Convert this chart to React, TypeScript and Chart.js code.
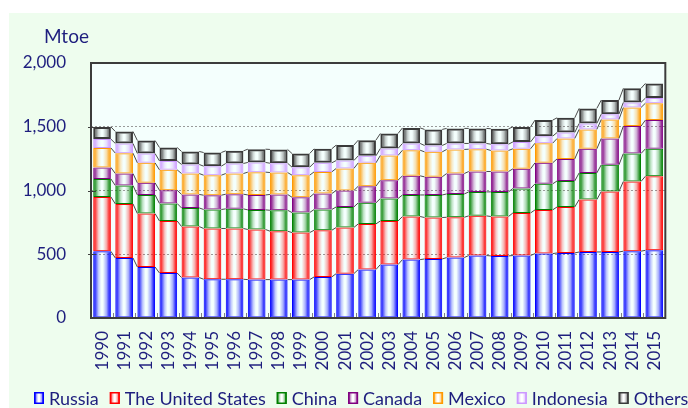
import React, { useEffect, useRef } from 'react';
import { Chart, registerables } from 'chart.js';

Chart.register(...registerables);

const years = ['1990', '1991', '1992', '1993', '1994', '1995', '1996', '1997', '1998', '1999', '2000', '2001', '2002', '2003', '2004', '2005', '2006', '2007', '2008', '2009', '2010', '2011', '2012', '2013', '2014', '2015'];

const russia = [523, 471, 400, 353, 317, 304, 304, 301, 301, 301, 322, 348, 380, 419, 458, 463, 474, 490, 487, 490, 505, 510, 518, 518, 524, 531];
const unitedStates = [427, 424, 419, 408, 400, 398, 398, 393, 380, 369, 366, 362, 358, 342, 338, 325, 316, 311, 309, 334, 343, 361, 411, 474, 547, 581];
const china = [141, 144, 146, 137, 146, 149, 154, 154, 164, 157, 163, 161, 165, 176, 169, 177, 183, 188, 193, 192, 204, 204, 209, 209, 219, 215];
const canada = [90, 94, 95, 104, 106, 112, 115, 117, 124, 120, 125, 129, 131, 144, 150, 142, 160, 160, 160, 154, 165, 173, 189, 207, 215, 225];
const mexico = [153, 160, 157, 160, 164, 157, 162, 179, 172, 173, 170, 173, 183, 194, 201, 196, 189, 175, 165, 157, 154, 160, 152, 149, 146, 133];
const indonesia = [69, 76, 73, 70, 71, 71, 79, 76, 73, 63, 71, 62, 55, 55, 53, 50, 47, 45, 49, 54, 55, 47, 47, 42, 40, 40];
const others = [96, 94, 102, 105, 102, 107, 99, 104, 108, 107, 110, 121, 123, 117, 122, 126, 118, 118, 121, 118, 126, 115, 118, 110, 110, 115];

const seriesNames = ['Russia', 'The United States', 'China', 'Canada', 'Mexico', 'Indonesia', 'Others'];
const seriesValues = [russia, unitedStates, china, canada, mexico, indonesia, others];
const seriesColors = ['#0000FF', '#FF0000', '#008000', '#800080', '#FF9900', '#CC99FF', '#3A3A3A'];

const yTicks = [0, 500, 1000, 1500, 2000];

const TEXT = '#1E1E7E';
const FONT = 'Lato';
const BAR_PCT = 0.8;

function rgba(hex: string, a: number) {
  const n = parseInt(hex.slice(1), 16);
  return `rgba(${(n >> 16) & 255},${(n >> 8) & 255},${n & 255},${a})`;
}

function fillGrad(ctx: CanvasRenderingContext2D, x0: number, x1: number, color: string) {
  const g = ctx.createLinearGradient(x0, 0, x1, 0);
  g.addColorStop(0, rgba(color, 1));
  g.addColorStop(0.1, rgba(color, 0.8));
  g.addColorStop(0.3, rgba(color, 0.22));
  g.addColorStop(0.45, rgba(color, 0.0));
  g.addColorStop(0.55, rgba(color, 0.0));
  g.addColorStop(0.75, rgba(color, 0.32));
  g.addColorStop(0.92, rgba(color, 0.85));
  g.addColorStop(1, rgba(color, 1));
  return g;
}

function barBackground(color: string) {
  return (c: any) => {
    const chart = c.chart;
    const xs = chart.scales && chart.scales.x;
    if (!xs || c.type !== 'data' || !chart.chartArea) return rgba(color, 0.4);
    const cx = xs.getPixelForValue(c.dataIndex);
    const half = (xs.width / years.length) * BAR_PCT / 2;
    return fillGrad(chart.ctx, cx - half, cx + half, color);
  };
}

const decoPlugin = {
  id: 'deco',
  beforeDraw(chart: any) {
    const { ctx, chartArea: a } = chart;
    ctx.save();
    ctx.fillStyle = '#FFFFFF';
    ctx.fillRect(0, 0, chart.width, chart.height);
    ctx.fillStyle = '#EEFDEE';
    ctx.fillRect(9, 13, chart.width - 9, chart.height - 13);
    ctx.fillStyle = '#F4FFFD';
    ctx.fillRect(a.left, a.top, a.right - a.left, a.bottom - a.top);
    ctx.restore();
  },
  afterDatasetsDraw(chart: any) {
    const ctx = chart.ctx;
    ctx.save();
    ctx.strokeStyle = '#4A4A4A';
    ctx.lineWidth = 1;
    chart.data.datasets.forEach((_: any, d: number) => {
      const meta = chart.getDatasetMeta(d);
      for (let i = 0; i < meta.data.length - 1; i++) {
        const a = meta.data[i];
        const b = meta.data[i + 1];
        ctx.beginPath();
        ctx.moveTo(a.x + a.width / 2, a.y);
        ctx.lineTo(b.x - b.width / 2, b.y);
        ctx.stroke();
      }
    });
    ctx.restore();
  },
  afterDraw(chart: any) {
    const { ctx, chartArea: a } = chart;
    const xs = chart.scales.x;
    const ys = chart.scales.y;
    ctx.save();
    // inside tick marks
    ctx.strokeStyle = '#808080';
    ctx.lineWidth = 1;
    const cat = xs.width / years.length;
    for (let i = 1; i < years.length; i++) {
      const x = Math.round(xs.left + cat * i) + 0.5;
      ctx.beginPath();
      ctx.moveTo(x, a.bottom);
      ctx.lineTo(x, a.bottom - 5);
      ctx.stroke();
    }
    ctx.strokeStyle = '#404040';
    yTicks.slice(1, -1).forEach((v) => {
      const y = Math.round(ys.getPixelForValue(v)) + 0.5;
      ctx.beginPath();
      ctx.moveTo(a.left - 3, y);
      ctx.lineTo(a.left + 5, y);
      ctx.stroke();
    });
    // frame
    ctx.strokeStyle = '#3C3C3C';
    ctx.lineWidth = 2;
    ctx.strokeRect(a.left, a.top, a.right - a.left, a.bottom - a.top);
    // unit
    ctx.fillStyle = TEXT;
    ctx.font = `19px ${FONT}`;
    ctx.textBaseline = 'alphabetic';
    ctx.textAlign = 'left';
    ctx.fillText('Mtoe', 44, 43);
    // legend
    ctx.font = `18px ${FONT}`;
    ctx.textBaseline = 'middle';
    let x = 34;
    const y = 398;
    seriesNames.forEach((name, i) => {
      const color = seriesColors[i];
      ctx.fillStyle = '#FFFFFF';
      ctx.fillRect(x, y - 6, 10, 12);
      ctx.fillStyle = fillGrad(ctx, x, x + 10, color);
      ctx.fillRect(x, y - 6, 10, 12);
      ctx.strokeStyle = color;
      ctx.lineWidth = 1.5;
      ctx.strokeRect(x + 0.75, y - 5.25, 8.5, 10.5);
      ctx.fillStyle = TEXT;
      ctx.fillText(name, x + 15, y + 1);
      x += 15 + ctx.measureText(name).width + 11;
    });
    ctx.restore();
  },
};

export default function App() {
  const ref = useRef<HTMLCanvasElement | null>(null);
  useEffect(() => {
    document.body.style.margin = '0';
    const canvas = ref.current;
    if (!canvas) return;
    const chart = new Chart(canvas, {
      type: 'bar',
      data: {
        labels: years,
        datasets: seriesValues.map((vals, i) => ({
          label: seriesNames[i],
          data: vals,
          backgroundColor: barBackground(seriesColors[i]),
          borderColor: seriesColors[i],
          borderWidth: i === 6 ? 2 : 1,
          borderSkipped: false,
          barPercentage: BAR_PCT,
          categoryPercentage: 1,
        })),
      },
      options: {
        responsive: false,
        animation: false,
        devicePixelRatio: 1,
        layout: { padding: { left: 0, top: 63, right: 17, bottom: 0 } },
        plugins: {
          legend: { display: false },
          tooltip: { enabled: false },
        },
        scales: {
          x: {
            stacked: true,
            grid: { display: false, drawTicks: false },
            border: { display: false },
            ticks: {
              autoSkip: false,
              minRotation: 90,
              maxRotation: 90,
              padding: 13,
              color: TEXT,
              font: { family: FONT, size: 17 },
            },
            afterFit: (s: any) => { s.height = 90; },
          },
          y: {
            stacked: true,
            min: 0,
            max: 2000,
            afterBuildTicks: (s: any) => { s.ticks = yTicks.map((v) => ({ value: v })); },
            grid: {
              drawTicks: false,
              color: (c: any) => (c.tick && (c.tick.value === 0 || c.tick.value === 2000) ? 'rgba(0,0,0,0)' : '#9A9A9A'),
              lineWidth: 1,
            },
            border: { display: false, dash: [2, 2] },
            ticks: {
              padding: 25,
              color: TEXT,
              font: { family: FONT, size: 17 },
              callback: (v: any) => Number(v).toLocaleString('en-US'),
            },
            afterFit: (s: any) => { s.width = 91; },
          },
        },
      },
      plugins: [decoPlugin],
    });
    return () => chart.destroy();
  }, []);
  return <canvas ref={ref} width={688} height={408} style={{ display: 'block' }} />;
}
